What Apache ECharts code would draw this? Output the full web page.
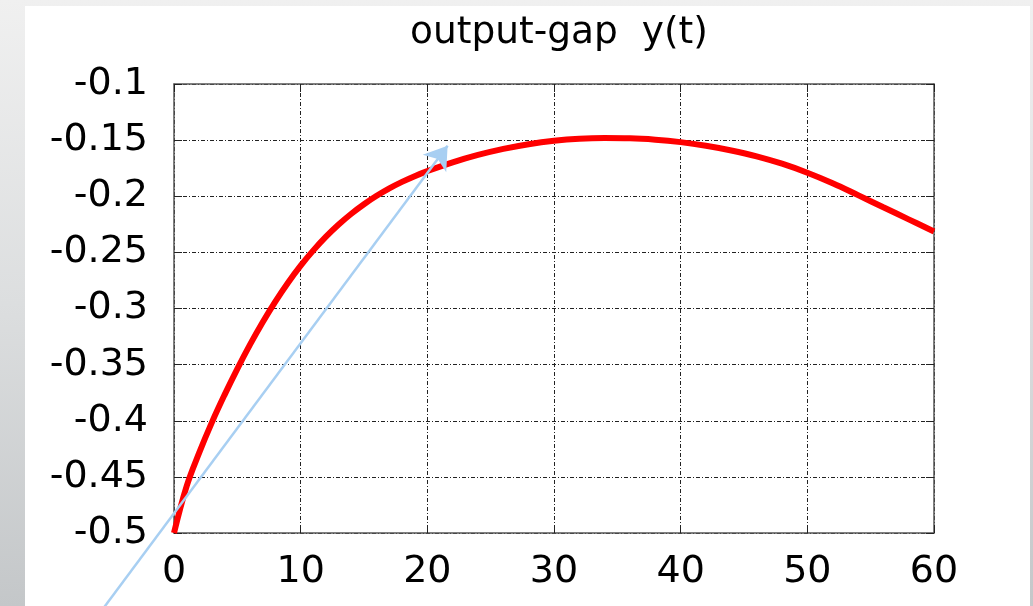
<!DOCTYPE html>
<html>
<head>
<meta charset="utf-8">
<script src="https://cdn.jsdelivr.net/npm/echarts@6/dist/echarts.min.js"></script>
<style>
  html, body { margin: 0; padding: 0; }
  body { width: 1033px; height: 606px; overflow: hidden; position: relative;
         background: linear-gradient(to bottom, #f0f0f0 0%, #dcdedf 50%, #c4c7c9 100%); }
  #panel { position: absolute; left: 25px; top: 6px; width: 1005px; height: 600px; background: #ffffff; }
  #chart { position: absolute; left: 0; top: 0; width: 1033px; height: 606px; }
</style>
</head>
<body>
<div id="panel"></div>
<div id="chart"></div>
<script>
// ---- data ----
const titleText = 'output-gap  y(t)';
const tValues = [0, 1, 2, 3, 4, 5, 6, 7, 8, 9, 10, 11, 12, 13, 14, 15, 16, 17, 18, 19, 20,
                 22, 24, 26, 28, 30, 32, 34, 36, 38, 40, 42, 44, 46, 48, 50, 52, 54, 56, 58, 60];
const yValues = [-0.5000, -0.4582, -0.4282, -0.4012, -0.3767, -0.3537, -0.3322, -0.3122, -0.2938, -0.2770, -0.2618,
                 -0.2482, -0.2360, -0.2252, -0.2156, -0.2071, -0.1996, -0.1930, -0.1872, -0.1821, -0.1776,
                 -0.1698, -0.1632, -0.1578, -0.1536, -0.1506, -0.1488, -0.1482, -0.1484, -0.1496, -0.1518,
                 -0.1550, -0.1592, -0.1644, -0.1710, -0.1790, -0.1884, -0.1990, -0.2098, -0.2206, -0.2314];
const xTicks = [0, 10, 20, 30, 40, 50, 60];
const yTicks = [-0.5, -0.45, -0.4, -0.35, -0.3, -0.25, -0.2, -0.15, -0.1];
// annotation arrow (data coordinates: start, tip)
const arrowStart = [-6.43, -0.58];
const arrowEnd = [21.6, -0.155];

const seriesData = tValues.map((t, i) => [t, yValues[i]]);

const chart = echarts.init(document.getElementById('chart'), null, { renderer: 'canvas' });
const labelFont = { fontFamily: 'DejaVu Sans', fontSize: 38, color: '#000' };
const gridLine = { show: true, lineStyle: { color: '#222', width: 1, type: [4, 2, 1, 2] } };
const frameLine = { show: true, onZero: false, lineStyle: { color: '#555', width: 1.5 } };
const innerTick = { show: true, inside: true, length: 8, lineStyle: { color: '#222' } };

chart.setOption({
  backgroundColor: 'transparent',
  animation: false,
  title: {
    text: titleText,
    left: 554, top: 9, textAlign: 'center',
    textStyle: { fontFamily: 'DejaVu Sans', fontSize: 37.5, fontWeight: 'normal', color: '#000' }
  },
  grid: { left: 174, right: 99, top: 84, bottom: 73, show: false },
  xAxis: [{
    type: 'value', min: xTicks[0], max: xTicks[xTicks.length - 1], interval: 10,
    axisLine: frameLine, axisTick: innerTick,
    axisLabel: Object.assign({ margin: 20 }, labelFont),
    splitLine: gridLine
  }, {
    type: 'value', position: 'top', min: xTicks[0], max: xTicks[xTicks.length - 1], interval: 10,
    axisLine: frameLine, axisTick: innerTick,
    axisLabel: { show: false }, splitLine: { show: false }
  }],
  yAxis: [{
    type: 'value', min: yTicks[0], max: yTicks[yTicks.length - 1], interval: 0.05,
    axisLine: frameLine, axisTick: innerTick,
    axisLabel: Object.assign({ margin: 26, formatter: v => String(+v.toFixed(2)) }, labelFont),
    splitLine: gridLine
  }, {
    type: 'value', position: 'right', min: yTicks[0], max: yTicks[yTicks.length - 1], interval: 0.05,
    axisLine: frameLine, axisTick: innerTick,
    axisLabel: { show: false }, splitLine: { show: false }
  }],
  series: [{
    type: 'line', name: 'y(t)', data: seriesData, smooth: 0.4, showSymbol: false,
    lineStyle: { color: '#ff0000', width: 6 }, z: 2
  }, {
    type: 'lines', coordinateSystem: 'cartesian2d', xAxisIndex: 0, yAxisIndex: 0,
    clip: false, silent: true, z: 5,
    symbol: ['none', 'arrow'], symbolSize: 22,
    lineStyle: { color: '#a8cff2', width: 2.5, type: 'solid', opacity: 1 },
    data: [{ coords: [arrowStart, arrowEnd] }]
  }]
});
</script>
</body>
</html>
